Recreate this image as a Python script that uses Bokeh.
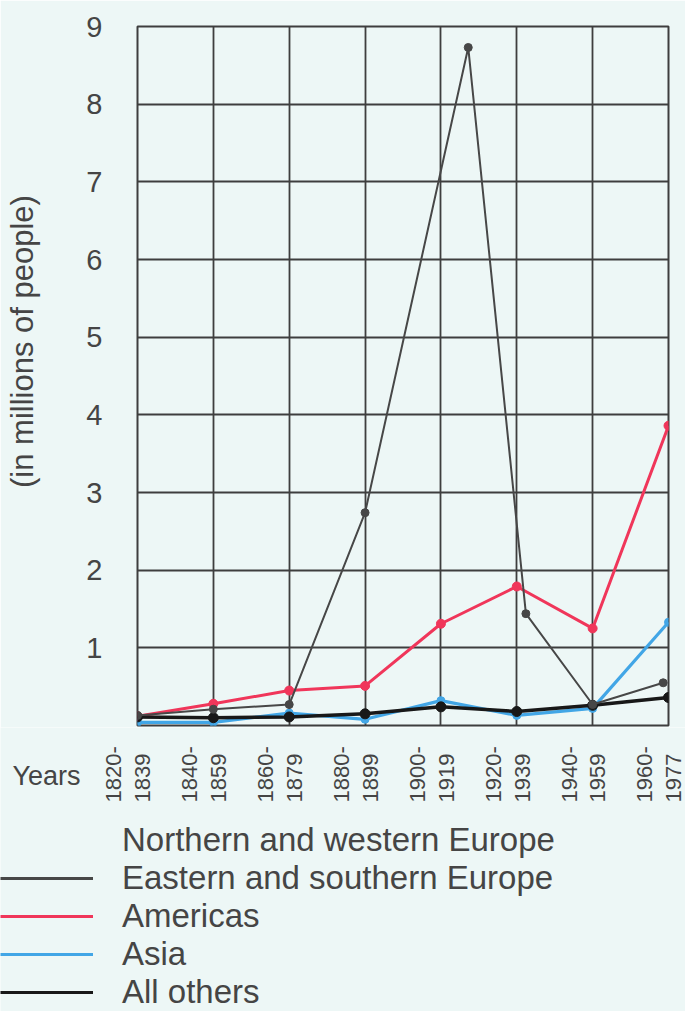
from math import pi
from bokeh.plotting import figure
from bokeh.layouts import column
from bokeh.models import Range1d, FixedTicker, Label, Legend, LegendItem
from bokeh.core.properties import value
from bokeh.embed import file_html
from bokeh.resources import INLINE

# ---------------- data ----------------
period_start = ["1820-", "1840-", "1860-", "1880-", "1900-", "1920-", "1940-", "1960-"]
period_end = ["1839", "1859", "1879", "1899", "1919", "1939", "1959", "1977"]
period_idx = [0, 1, 2, 3, 4, 5, 6, 7]

americas = [0.12, 0.28, 0.45, 0.51, 1.31, 1.79, 1.25, 3.86]
asia = [0.04, 0.04, 0.16, 0.08, 0.32, 0.13, 0.22, 1.33]
all_others = [0.11, 0.10, 0.11, 0.15, 0.24, 0.18, 0.26, 0.36]
eastern_x = [0, 1, 2, 3, 4.36, 5.12, 6, 6.93]
eastern = [0.13, 0.21, 0.27, 2.74, 8.73, 1.44, 0.27, 0.55]

y_ticks = [1, 2, 3, 4, 5, 6, 7, 8, 9]

legend_labels = ["Northern and western Europe", "Eastern and southern Europe",
                 "Americas", "Asia", "All others"]

# ---------------- style / layout ----------------
BG = "#edf7f6"
GRID = "#3e3e3e"
TXT = "#454545"
FONT = "Liberation Sans"
C_EAST = "#474747"
C_AMER = "#f0365a"
C_ASIA = "#42a6e6"
C_OTHER = "#181818"

W = 685
TOP_H = 727
BOT_H = 1011 - TOP_H
FRAME_L, FRAME_R = 137, 668
UNIT = (FRAME_R - FRAME_L) / 7.0


def no_frame_align(fig):
    try:
        fig.frame_align = False
    except Exception:
        pass


# ---------------- main chart ----------------
p = figure(width=W, height=TOP_H, x_range=Range1d(0, 7), y_range=Range1d(0, 9),
           output_backend="svg", toolbar_location=None, x_axis_location=None,
           min_border_left=FRAME_L, min_border_right=W - FRAME_R,
           min_border_top=26, min_border_bottom=2)
no_frame_align(p)
p.background_fill_color = BG
p.border_fill_color = BG
p.outline_line_color = GRID
p.outline_line_width = 2

p.xgrid.ticker = FixedTicker(ticks=period_idx[1:-1])
p.ygrid.ticker = FixedTicker(ticks=y_ticks[:-1])
for g in (p.xgrid, p.ygrid):
    g.grid_line_color = GRID
    g.grid_line_width = 1.8
    g.grid_line_alpha = 1

p.yaxis.ticker = FixedTicker(ticks=y_ticks)
p.yaxis.axis_line_color = None
p.yaxis.major_tick_line_color = None
p.yaxis.minor_tick_line_color = None
p.yaxis.major_label_standoff = 29
p.yaxis.major_label_text_font = FONT
p.yaxis.major_label_text_font_size = "29px"
p.yaxis.major_label_text_color = TXT
p.yaxis.axis_label = "\u00a0" * 8 + "(in millions of people)"
p.yaxis.axis_label_text_font = FONT
p.yaxis.axis_label_text_font_style = "normal"
p.yaxis.axis_label_text_font_size = "31px"
p.yaxis.axis_label_text_color = TXT
p.yaxis.axis_label_standoff = 43

p.line(period_idx, asia, line_color=C_ASIA, line_width=3.2)
p.scatter(period_idx, asia, size=8, color=C_ASIA)

p.line(period_idx, americas, line_color=C_AMER, line_width=3)
p.scatter(period_idx, americas, size=9, color=C_AMER)

p.line(period_idx, all_others, line_color=C_OTHER, line_width=3.5)
p.scatter(period_idx, all_others, size=10, color=C_OTHER)

p.line(eastern_x, eastern, line_color=C_EAST, line_width=2)
p.scatter(eastern_x, eastern, size=8, color=C_EAST)

# ---------------- lower strip: period labels, "Years", legend ----------------
p2 = figure(width=W, height=BOT_H,
            x_range=Range1d(-FRAME_L / UNIT, (W - FRAME_L) / UNIT),
            y_range=Range1d(0, BOT_H),
            output_backend="svg", toolbar_location=None,
            x_axis_location=None, y_axis_location=None, min_border=0)
no_frame_align(p2)
p2.grid.visible = False
p2.outline_line_color = None
p2.background_fill_color = BG
p2.border_fill_color = BG

LABEL_BASE = BOT_H - 75          # bottom end of the rotated labels
START_OFF, END_OFF = -0.31, 0.07
p2.text(x=[i + START_OFF for i in period_idx], y=[LABEL_BASE] * len(period_idx),
        text=period_start, angle=pi / 2, text_align="left", text_baseline="middle",
        text_font=value(FONT), text_font_size="22px", text_color=TXT)
p2.text(x=[i + END_OFF for i in period_idx], y=[LABEL_BASE] * len(period_idx),
        text=period_end, angle=pi / 2, text_align="left", text_baseline="middle",
        text_font=value(FONT), text_font_size="22px", text_color=TXT)

p2.add_layout(Label(x=12, y=BOT_H - 48, x_units="screen", y_units="screen",
                    text="Years", text_align="left", text_baseline="middle",
                    text_font=FONT, text_font_size="27px", text_color=TXT))

# legend swatches: hidden copies of the series (legend draws their line style)
k_nw = p2.line(x=[], y=[], line_color=None)
k_east = p2.line(eastern_x, eastern, line_color=C_EAST, line_width=3, visible=False)
k_amer = p2.line(period_idx, americas, line_color=C_AMER, line_width=3, visible=False)
k_asia = p2.line(period_idx, asia, line_color=C_ASIA, line_width=3, visible=False)
k_other = p2.line(period_idx, all_others, line_color=C_OTHER, line_width=3, visible=False)

legend = Legend(
    items=[LegendItem(label=legend_labels[0], renderers=[k_nw]),
           LegendItem(label=legend_labels[1], renderers=[k_east]),
           LegendItem(label=legend_labels[2], renderers=[k_amer]),
           LegendItem(label=legend_labels[3], renderers=[k_asia]),
           LegendItem(label=legend_labels[4], renderers=[k_other])],
    location=(0, 0), orientation="vertical",
    padding=0, margin=0, spacing=0,
    glyph_width=93, glyph_height=30, label_standoff=29,
    label_text_font=FONT, label_text_font_size="33px",
    label_text_color=TXT,
    inactive_fill_alpha=0,
    background_fill_alpha=0, border_line_alpha=0)
p2.add_layout(legend, "center")

layout = column(p, p2, spacing=0)
open("out.html", "w").write(file_html(layout, INLINE))
